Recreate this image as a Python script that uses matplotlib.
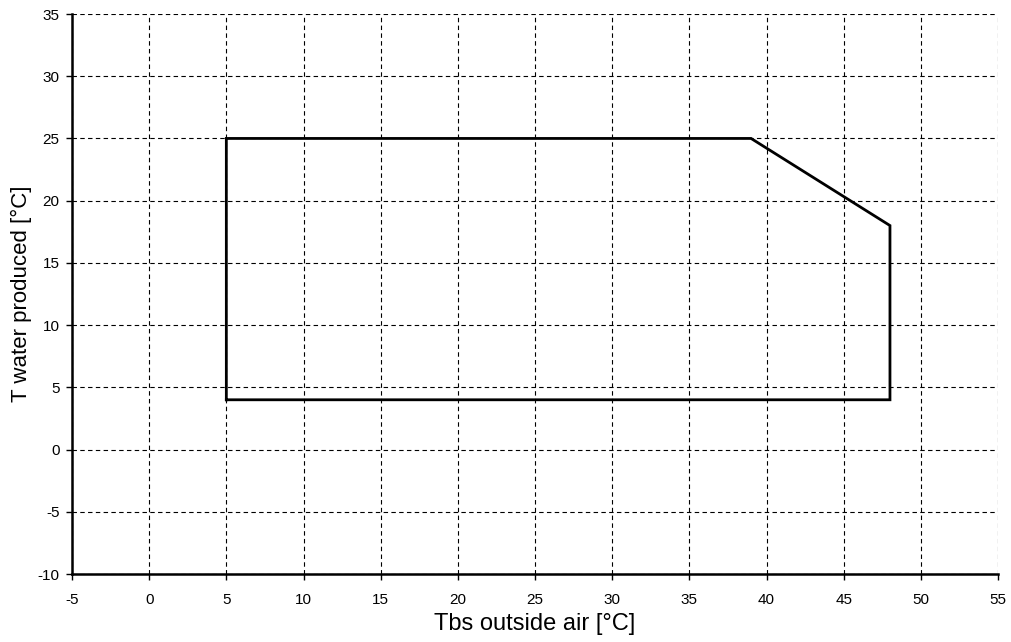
import matplotlib
matplotlib.use("Agg")
import matplotlib.pyplot as plt

# operating envelope corners
t_air = [5, 5, 39, 48, 48, 5]
t_water = [4, 25, 25, 18, 4, 4]

x_ticks = list(range(-5, 56, 5))
y_ticks = list(range(-10, 36, 5))

plt.rcParams['font.family'] = ['Liberation Sans', 'DejaVu Sans']
plt.rcParams['axes.unicode_minus'] = False

fig = plt.figure(figsize=(10.11, 6.42), dpi=100)
ax = fig.add_axes([72 / 1011, 1 - 574 / 642, (998 - 72) / 1011, (574 - 14) / 642])

ax.plot(t_air, t_water, color='black', linewidth=2, solid_joinstyle='miter')

ax.set_xlim(-5, 55)
ax.set_ylim(-10, 35)
ax.set_xticks(x_ticks)
ax.set_yticks(y_ticks)
ax.grid(True, color='black', linestyle=(0, (4, 3)), linewidth=0.8)

ax.spines['top'].set_visible(False)
ax.spines['right'].set_visible(False)
ax.spines['left'].set_linewidth(1.8)
ax.spines['bottom'].set_linewidth(1.8)
ax.tick_params(direction='out', length=4, width=1, labelsize=11)
ax.tick_params(axis='x', pad=10)
ax.tick_params(axis='y', pad=5)

ax.set_xlabel('Tbs outside air [°C]', fontsize=17, labelpad=4)
ax.set_ylabel('T water produced [°C]', fontsize=16, labelpad=4)

fig.savefig('out.png', dpi=100)
